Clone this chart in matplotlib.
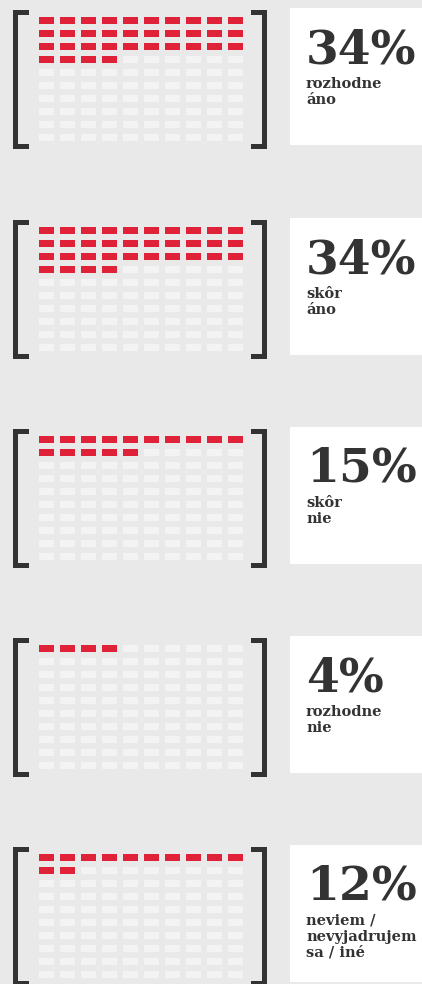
import matplotlib
matplotlib.use("Agg")
import matplotlib.pyplot as plt
from matplotlib.patches import Rectangle
import numpy as np

# ---- data ----
percent_values = [34, 34, 15, 4, 12]
percent_labels = ["34%", "34%", "15%", "4%", "12%"]
category_labels = ["rozhodne\náno", "skôr\náno", "skôr\nnie", "rozhodne\nnie",
                   "neviem /\nnevyjadrujem\nsa / iné"]

# ---- style ----
W, H = 422, 984
BG = "#e9e9e9"
RED = "#df2238"
EMPTY = "#f3f3f3"
DARK = "#333333"
panel_tops = [10, 220, 429, 638, 847]
N_COLS, N_ROWS = 10, 10

fig = plt.figure(figsize=(W / 100, H / 100), dpi=100)
fig.patch.set_facecolor(BG)
main = fig.add_axes([0, 0, 1, 1])
main.set_xlim(0, W)
main.set_ylim(H, 0)
main.axis("off")


def fig_rect(x0, y0, w, h):
    return [x0 / W, 1 - (y0 + h) / H, w / W, h / H]


for top, val, ptxt, lab in zip(panel_tops, percent_values, percent_labels, category_labels):
    # white label box
    main.add_patch(Rectangle((290, top - 2), W - 290, 137, facecolor="white",
                             edgecolor="none", zorder=1))
    # brackets
    lw = 5
    bh = 139
    main.add_patch(Rectangle((12.5, top), lw, bh, facecolor=DARK, zorder=3))
    main.add_patch(Rectangle((12.5, top), 16.5, lw, facecolor=DARK, zorder=3))
    main.add_patch(Rectangle((12.5, top + bh - lw), 16.5, lw, facecolor=DARK, zorder=3))
    main.add_patch(Rectangle((262, top), lw, bh, facecolor=DARK, zorder=3))
    main.add_patch(Rectangle((250.5, top), 16.5, lw, facecolor=DARK, zorder=3))
    main.add_patch(Rectangle((250.5, top + bh - lw), 16.5, lw, facecolor=DARK, zorder=3))

    # percent and label
    main.text(306, top + 53, ptxt, fontsize=34, fontweight="bold", family="DejaVu Serif",
              color=DARK, ha="left", va="baseline", zorder=4)
    main.text(306, top + 67, lab, fontsize=10.5, fontweight="bold", family="DejaVu Serif",
              color=DARK, ha="left", va="top", linespacing=1.15, zorder=4)

    # waffle grid
    ax = fig.add_axes(fig_rect(36, top + 4, 210, 130))
    ax.set_xlim(-0.5, N_COLS - 0.5)
    ax.set_ylim(N_ROWS - 0.5, -0.5)
    ax.axis("off")
    idx = np.arange(N_COLS * N_ROWS)
    cols = idx % N_COLS
    rows = idx // N_COLS
    colors = [RED if i < val else EMPTY for i in idx]
    ax.bar(cols, 0.54, width=0.72, bottom=rows - 0.27, color=colors, linewidth=0)

fig.savefig("out.png", dpi=100, facecolor=BG)
